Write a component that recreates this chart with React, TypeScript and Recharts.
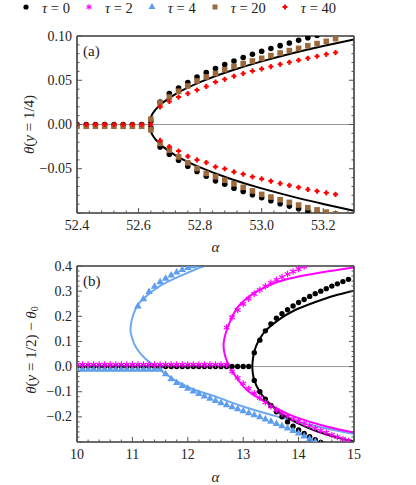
import React from "react";
import { ComposedChart, Line, Scatter, XAxis, YAxis, ReferenceLine } from "recharts";

const SERIF = "'Liberation Serif', 'DejaVu Serif', serif";
const FRAME = "#3a3a3a";
const TICK = "#555";
const INK = "#222";

const BLACK = "#000000";
const MAGENTA = "#ff00ff";
const BLUE = "#5f9eee";
const BLUE_LINE = "#6ea8f0";
const BROWN = "#9c6a3c";
const RED = "#ff0000";

// ---------- panel (a): theta(y=1/4), alpha grid of the runs (step 0.03)
const alphaA = [52.40, 52.43, 52.46, 52.49, 52.52, 52.55, 52.58, 52.61, 52.64, 52.67, 52.70, 52.73, 52.76, 52.79, 52.82, 52.85, 52.88, 52.91, 52.94, 52.97, 53.00, 53.03, 53.06, 53.09, 53.12, 53.15, 53.18, 53.21, 53.24];

// below threshold (first 8 alphas)
const tau0FlatA = [0, 0, 0, 0, 0, 0, 0, 0];
const tau20FlatA = [-0.002, -0.002, -0.002, -0.002, -0.002, -0.002, -0.002, -0.002];
const tau40FlatA = [0, 0, 0, 0, 0, 0, 0, 0];

// branches, from alpha = 52.64
const tau0UpperA = [0.004, 0.0255, 0.035, 0.0413, 0.0474, 0.0537, 0.0587, 0.0632, 0.0677, 0.0718, 0.0756, 0.0794, 0.0827, 0.0858, 0.0891, 0.0921, 0.0951, 0.0981, 0.1005, 0.103, 0.106];
const tau0LowerA = [-0.004, -0.0253, -0.0335, -0.0403, -0.0471, -0.053, -0.0584, -0.0637, -0.0674, -0.0719, -0.0756, -0.0794, -0.0828, -0.0862, -0.0896, -0.0922, -0.0952, -0.0978, -0.1, -0.103, -0.106];
const tau20UpperA = [0.006, 0.0244, 0.031, 0.0376, 0.0436, 0.0492, 0.0537, 0.0576, 0.062, 0.0658, 0.0688, 0.0718, 0.0748, 0.0779, 0.0808, 0.0835, 0.086, 0.089, 0.0914, 0.094, 0.097];
const tau20LowerA = [-0.006, -0.0214, -0.029, -0.0366, -0.0433, -0.0497, -0.0553, -0.059, -0.063, -0.067, -0.071, -0.075, -0.079, -0.082, -0.085, -0.088, -0.091, -0.094, -0.0965, -0.099, -0.101];
const tau40UpperA = [0, 0.02, 0.026, 0.031, 0.035, 0.039, 0.043, 0.048, 0.0511, 0.0545, 0.0576, 0.0605, 0.0628, 0.0655, 0.068, 0.0703, 0.0726, 0.0748, 0.0771, 0.0793, 0.0813];
// from alpha = 52.67
const tau40LowerA = [-0.018, -0.025, -0.03, -0.036, -0.04, -0.043, -0.0478, -0.05, -0.0535, -0.0561, -0.0591, -0.0614, -0.064, -0.0666, -0.0688, -0.0711, -0.0734, -0.0753, -0.0772, -0.079];

// theory curve (a), top branch -> nose -> bottom branch
const curveAlphaA = [53.3, 53.2, 53.1, 53.0, 52.9, 52.8, 52.72, 52.68, 52.655, 52.64, 52.635, 52.64, 52.655, 52.68, 52.72, 52.8, 52.9, 53.0, 53.1, 53.2, 53.3];
const curveThetaA = [0.0962, 0.0887, 0.0805, 0.0713, 0.0607, 0.0479, 0.0344, 0.025, 0.0167, 0.0083, 0, -0.0084, -0.0169, -0.0253, -0.0348, -0.0485, -0.0615, -0.0722, -0.0815, -0.0898, -0.0975];

// ---------- panel (b): theta(y=1/2) - theta0, alpha grid step 0.1
const alphaB = [10.0, 10.1, 10.2, 10.3, 10.4, 10.5, 10.6, 10.7, 10.8, 10.9, 11.0, 11.1, 11.2, 11.3, 11.4, 11.5, 11.6, 11.7, 11.8, 11.9, 12.0, 12.1, 12.2, 12.3, 12.4, 12.5, 12.6, 12.7, 12.8, 12.9, 13.0, 13.1, 13.2, 13.3, 13.4, 13.5, 13.6, 13.7, 13.8, 13.9, 14.0, 14.1, 14.2, 14.3, 14.4, 14.5, 14.6, 14.7, 14.8, 14.9, 15.0];

// tau = 0: flat 10.0-13.1, branches from 13.2
const tau0FlatB = [0, 0, 0, 0, 0, 0, 0, 0, 0, 0, 0, 0, 0, 0, 0, 0, 0, 0, 0, 0, 0, 0, 0, 0, 0, 0, 0, 0, 0, 0, 0, 0];
const tau0UpperB = [0.055, 0.105, 0.142, 0.17, 0.192, 0.21, 0.226, 0.241, 0.255, 0.267, 0.279, 0.29, 0.3, 0.31, 0.32, 0.329, 0.338, 0.347];
const tau0LowerB = [-0.055, -0.1, -0.13, -0.155, -0.18, -0.2, -0.22, -0.237, -0.252, -0.266, -0.279, -0.291, -0.302, -0.313];

// tau = 2: flat 10.0-12.7, upper from 12.7, lower from 12.8
const tau2FlatB = [0.008, 0.008, 0.008, 0.008, 0.008, 0.008, 0.008, 0.008, 0.008, 0.008, 0.008, 0.008, 0.008, 0.008, 0.008, 0.008, 0.008, 0.008, 0.008, 0.008, 0.008, 0.008, 0.008, 0.008, 0.008, 0.008, 0.008, 0.008];
const tau2UpperB = [0.155, 0.196, 0.225, 0.249, 0.27, 0.289, 0.305, 0.32, 0.333, 0.345, 0.356, 0.368, 0.378, 0.388, 0.398, 0.408];
const tau2LowerB = [-0.02, -0.045, -0.068, -0.088, -0.106, -0.124, -0.142, -0.158, -0.172, -0.186, -0.197, -0.208, -0.217, -0.226, -0.236, -0.246, -0.255, -0.263, -0.272, -0.28, -0.288, -0.296, -0.304];

// tau = 4: flat 10.0-11.5, upper from 11.1, lower from 11.6
const tau4FlatB = [-0.012, -0.012, -0.012, -0.012, -0.012, -0.012, -0.012, -0.012, -0.012, -0.012, -0.012, -0.012, -0.012, -0.012, -0.012, -0.012];
const tau4UpperB = [0.24, 0.268, 0.297, 0.318, 0.336, 0.35, 0.363, 0.375, 0.385, 0.393, 0.4, 0.407, 0.413];
const tau4LowerB = [-0.03, -0.05, -0.065, -0.077, -0.088, -0.098, -0.108, -0.118, -0.127, -0.136, -0.145, -0.153, -0.161, -0.169, -0.177, -0.185, -0.193, -0.201, -0.21, -0.219, -0.228, -0.237, -0.246, -0.256, -0.266, -0.277, -0.288, -0.299, -0.31];

// theory curves (b)
const blueCurveAlpha = [12.29, 11.87, 11.5, 11.26, 11.11, 11.02, 10.975, 10.965, 10.99, 11.08, 11.23, 11.41, 11.63, 11.87, 12.17, 12.47, 13.01, 13.62, 14.22, 15.0];
const blueCurveTheta = [0.4, 0.361, 0.321, 0.282, 0.249, 0.209, 0.17, 0.145, 0.117, 0.071, 0.032, 0, -0.034, -0.067, -0.096, -0.117, -0.16, -0.199, -0.232, -0.268];
const magentaCurveAlpha = [15.0, 14.4, 13.8, 13.32, 12.95, 12.77, 12.68, 12.645, 12.67, 12.72, 12.78, 12.9, 13.07, 13.44, 13.92, 14.52, 15.0];
const magentaCurveTheta = [0.394, 0.374, 0.348, 0.308, 0.249, 0.183, 0.13, 0.085, 0.045, 0.015, -0.01, -0.05, -0.094, -0.146, -0.199, -0.239, -0.262];
const blackCurveAlphaB = [15.0, 14.64, 14.28, 13.92, 13.62, 13.41, 13.28, 13.2, 13.17, 13.165, 13.17, 13.2, 13.32, 13.47, 13.68, 13.98, 14.34, 14.7, 15.0];
const blackCurveThetaB = [0.302, 0.282, 0.255, 0.223, 0.183, 0.144, 0.104, 0.06, 0.02, 0, -0.02, -0.055, -0.107, -0.146, -0.186, -0.225, -0.258, -0.282, -0.298];

// ---------- ticks
const xTicksA = [52.4, 52.6, 52.8, 53.0, 53.2];
const xTickLabelsA = ["52.4", "52.6", "52.8", "53.0", "53.2"];
const yTicksA = [0.1, 0.05, 0, -0.05, -0.1];
const yTickLabelsA = ["0.10", "0.05", "0.00", "\u22120.05", ""];
const xTicksB = [10, 11, 12, 13, 14, 15];
const xTickLabelsB = ["10", "11", "12", "13", "14", "15"];
const yTicksB = [0.4, 0.3, 0.2, 0.1, 0, -0.1, -0.2, -0.3];
const yTickLabelsB = ["0.4", "0.3", "0.2", "0.1", "0.0", "\u22120.1", "\u22120.2", ""];

const steps = (lo: number, hi: number, step: number) => {
  const out: number[] = [];
  const n = Math.round((hi - lo) / step);
  for (let i = 0; i <= n; i++) out.push(Math.round((lo + i * step) * 1e4) / 1e4);
  return out;
};

const zip = (xs: number[], ys: number[]) => ys.map((y, i) => ({ x: xs[i], y }));

// ---------- markers
const dotShape = (r: number, fill: string) => (p: any) => <circle cx={p.cx} cy={p.cy} r={r} fill={fill} />;
const squareShape = (s: number, fill: string) => (p: any) => (
  <rect x={p.cx - s / 2} y={p.cy - s / 2} width={s} height={s} fill={fill} />
);
const plusShape = (s: number, w: number, fill: string) => (p: any) => {
  const a = s / 2, b = w / 2;
  return (
    <g fill={fill}>
      <rect x={p.cx - a} y={p.cy - b} width={s} height={w} rx={0.6} />
      <rect x={p.cx - b} y={p.cy - a} width={w} height={s} rx={0.6} />
    </g>
  );
};
const triShape = (s: number, fill: string) => (p: any) => {
  const h = s * 0.866;
  return (
    <polygon
      points={`${p.cx},${p.cy - (2 * h) / 3} ${p.cx - s / 2},${p.cy + h / 3} ${p.cx + s / 2},${p.cy + h / 3}`}
      fill={fill}
    />
  );
};
const starShape = (r: number, color: string) => (p: any) => (
  <g stroke={color} strokeWidth={1.2}>
    {[90, 30, -30].map((deg) => {
      const t = (deg * Math.PI) / 180;
      return <line key={deg} x1={p.cx - r * Math.cos(t)} y1={p.cy - r * Math.sin(t)} x2={p.cx + r * Math.cos(t)} y2={p.cy + r * Math.sin(t)} />;
    })}
  </g>
);

// ---------- frame ticks (inward, minor + major, labels on the majors)
type Side = "bottom" | "top" | "left" | "right";
const frameTick = (side: Side, majors: number[], labels: string[] = []) => (p: any) => {
  const v = Number(p.payload.value);
  const k = majors.findIndex((m) => Math.abs(m - v) < 1e-6);
  const len = k >= 0 ? 5 : 2.5;
  const label = k >= 0 ? labels[k] : "";
  const { x, y } = p;
  let seg = [x, y, x, y - len];
  if (side === "top") seg = [x, y, x, y + len];
  if (side === "left") seg = [x, y, x + len, y];
  if (side === "right") seg = [x, y, x - len, y];
  return (
    <g>
      <line x1={seg[0]} y1={seg[1]} x2={seg[2]} y2={seg[3]} stroke={TICK} strokeWidth={1} />
      {label && side === "bottom" ? (
        <text x={x} y={y + 17} textAnchor="middle" fontFamily={SERIF} fontSize={14} fill={INK}>{label}</text>
      ) : null}
      {label && side === "left" ? (
        <text x={x - 5} y={y + 4.5} textAnchor="end" fontFamily={SERIF} fontSize={14} fill={INK}>{label}</text>
      ) : null}
    </g>
  );
};

const alphaTitle = (dy: number) => (p: any) => {
  const vb = p.viewBox || { x: 0, y: 0, width: 0, height: 0 };
  return (
    <text x={vb.x + vb.width / 2} y={vb.y + dy} textAnchor="middle" fontFamily={SERIF} fontSize={15} fontStyle="italic" fill={INK}>
      α
    </text>
  );
};

const panelTag = (tag: string) => (p: any) => {
  const vb = p.viewBox || { x: 0, y: 0, width: 0, height: 0 };
  return (
    <text x={vb.x + 6} y={vb.y + vb.height + 19.5} fontFamily={SERIF} fontSize={15} fill={INK}>{tag}</text>
  );
};

const yTitleA = (p: any) => {
  const vb = p.viewBox || { x: 0, y: 0, width: 0, height: 0 };
  const cx = vb.x + 29, cy = vb.y + vb.height / 2;
  return (
    <text x={cx} y={cy} transform={`rotate(-90 ${cx} ${cy})`} textAnchor="middle" dominantBaseline="central" fontFamily={SERIF} fontSize={15} fill={INK}>
      <tspan fontStyle="italic">θ</tspan>(<tspan fontStyle="italic">y</tspan> = 1/4)
    </text>
  );
};

const yTitleB = (p: any) => {
  const vb = p.viewBox || { x: 0, y: 0, width: 0, height: 0 };
  const cx = vb.x + 31, cy = vb.y + vb.height / 2 - 4;
  return (
    <text x={cx} y={cy} transform={`rotate(-90 ${cx} ${cy})`} textAnchor="middle" dominantBaseline="central" fontFamily={SERIF} fontSize={15} fill={INK}>
      <tspan fontStyle="italic">θ</tspan>(<tspan fontStyle="italic">y</tspan> = 1/2) − <tspan fontStyle="italic">θ</tspan>
      <tspan fontSize={10} dy={3}>0</tspan>
    </text>
  );
};

function frameAxes(o: {
  xDomain: [number, number]; yDomain: [number, number];
  xAll: number[]; yAll: number[];
  xMajor: number[]; yMajor: number[];
  xLabels: string[]; yLabels: string[];
  xHeight: number; xTitle: any; yTitle: any; tag: any;
}) {
  const axisLine = { stroke: FRAME, strokeWidth: 1.6 };
  return [
    <XAxis key="xb" dataKey="x" type="number" domain={o.xDomain} allowDataOverflow ticks={o.xAll} interval={0}
      tickSize={0} tickMargin={0} tickLine={false} axisLine={axisLine} height={o.xHeight}
      tick={frameTick("bottom", o.xMajor, o.xLabels)} label={o.xTitle} />,
    <XAxis key="xt" xAxisId="top" orientation="top" type="number" domain={o.xDomain} allowDataOverflow ticks={o.xAll} interval={0}
      tickSize={0} tickMargin={0} tickLine={false} axisLine={axisLine} height={1}
      tick={frameTick("top", o.xMajor)} label={o.tag} />,
    <YAxis key="yl" dataKey="y" type="number" domain={o.yDomain} allowDataOverflow ticks={o.yAll} interval={0}
      tickSize={0} tickMargin={0} tickLine={false} axisLine={axisLine} width={77}
      tick={frameTick("left", o.yMajor, o.yLabels)} label={o.yTitle} />,
    <YAxis key="yr" yAxisId="right" orientation="right" type="number" domain={o.yDomain} allowDataOverflow ticks={o.yAll} interval={0}
      tickSize={0} tickMargin={0} tickLine={false} axisLine={axisLine} width={1}
      tick={frameTick("right", o.yMajor)} />,
  ];
}

// ---------- series data
const blackA = [...zip(alphaA, tau0FlatA), ...zip(alphaA.slice(8), tau0UpperA), ...zip(alphaA.slice(8), tau0LowerA)];
const brownA = [...zip(alphaA, tau20FlatA), ...zip(alphaA.slice(8), tau20UpperA), ...zip(alphaA.slice(8), tau20LowerA)];
const redA = [...zip(alphaA, tau40FlatA), ...zip(alphaA.slice(8), tau40UpperA), ...zip(alphaA.slice(9), tau40LowerA)];
const curveA = zip(curveAlphaA, curveThetaA);

const blackB = [...zip(alphaB, tau0FlatB), ...zip(alphaB.slice(32), tau0UpperB), ...zip(alphaB.slice(32), tau0LowerB)];
const magentaB = [...zip(alphaB, tau2FlatB), ...zip(alphaB.slice(27), tau2UpperB), ...zip(alphaB.slice(28), tau2LowerB)];
const blueB = [...zip(alphaB, tau4FlatB), ...zip(alphaB.slice(11), tau4UpperB), ...zip(alphaB.slice(16), tau4LowerB)];
const blueCurve = zip(blueCurveAlpha, blueCurveTheta);
const magentaCurve = zip(magentaCurveAlpha, magentaCurveTheta);
const blackCurveB = zip(blackCurveAlphaB, blackCurveThetaB);

const legendEntries = [
  { tau: "0", shape: dotShape(2.6, BLACK) },
  { tau: "2", shape: starShape(2.8, MAGENTA) },
  { tau: "4", shape: triShape(7, BLUE) },
  { tau: "20", shape: squareShape(5, BROWN) },
  { tau: "40", shape: plusShape(5, 2, RED) },
];

export default function App() {
  return (
    <div style={{ position: "absolute", left: 0, top: 0, width: 416, height: 485, background: "#fff" }}>
      <div style={{ position: "absolute", left: 21, top: 0, display: "flex", alignItems: "flex-start", fontFamily: SERIF, fontSize: 14.5, whiteSpace: "nowrap", color: INK }}>
        {legendEntries.map((e) => (
          <div key={e.tau} style={{ display: "flex", alignItems: "flex-start", marginRight: 14 }}>
            <svg width={10} height={10} style={{ marginTop: 2, marginRight: 11, overflow: "visible" }}>{e.shape({ cx: 5, cy: 5 })}</svg>
            <span><i>τ</i> = {e.tau}</span>
          </div>
        ))}
      </div>

      <div style={{ position: "absolute", left: 0, top: 0 }}>
        <ComposedChart width={416} height={260} margin={{ top: 35, right: 61, bottom: 0, left: 0 }}>
          {frameAxes({
            xDomain: [52.4, 53.3], yDomain: [-0.1, 0.1],
            xAll: steps(52.4, 53.28, 0.04), yAll: steps(-0.1, 0.1, 0.01),
            xMajor: xTicksA, yMajor: yTicksA, xLabels: xTickLabelsA, yLabels: yTickLabelsA,
            xHeight: 47, xTitle: alphaTitle(39), yTitle: yTitleA, tag: panelTag("(a)"),
          })}
          <ReferenceLine y={0} stroke="#999" strokeWidth={1} />
          <Scatter name="τ = 0" data={blackA} shape={dotShape(2.8, BLACK)} isAnimationActive={false} />
          <Scatter name="τ = 20" data={brownA} shape={squareShape(5.6, BROWN)} isAnimationActive={false} />
          <Scatter name="τ = 40" data={redA} shape={plusShape(5.2, 2.1, RED)} isAnimationActive={false} />
          <Line data={curveA} dataKey="y" type="monotoneY" stroke={BLACK} strokeWidth={2} dot={false} isAnimationActive={false} />
        </ComposedChart>
      </div>

      <div style={{ position: "absolute", left: 0, top: 260 }}>
        <ComposedChart width={416} height={225} margin={{ top: 5, right: 61, bottom: 0, left: 0 }}>
          {frameAxes({
            xDomain: [10, 15], yDomain: [-0.3, 0.4],
            xAll: steps(10, 15, 0.2), yAll: steps(-0.3, 0.4, 0.02),
            xMajor: xTicksB, yMajor: yTicksB, xLabels: xTickLabelsB, yLabels: yTickLabelsB,
            xHeight: 43, xTitle: alphaTitle(40), yTitle: yTitleB, tag: panelTag("(b)"),
          })}
          <ReferenceLine y={0} stroke="#999" strokeWidth={1} />
          <Scatter name="τ = 0" data={blackB} shape={dotShape(2.7, BLACK)} isAnimationActive={false} />
          <Scatter name="τ = 4" data={blueB} shape={triShape(7.5, BLUE)} isAnimationActive={false} />
          <Scatter name="τ = 2" data={magentaB} shape={starShape(3.3, MAGENTA)} isAnimationActive={false} />
          <Line data={blueCurve} dataKey="y" type="monotoneY" stroke={BLUE_LINE} strokeWidth={2} dot={false} isAnimationActive={false} />
          <Line data={magentaCurve} dataKey="y" type="monotoneY" stroke={MAGENTA} strokeWidth={2} dot={false} isAnimationActive={false} />
          <Line data={blackCurveB} dataKey="y" type="monotoneY" stroke={BLACK} strokeWidth={2} dot={false} isAnimationActive={false} />
        </ComposedChart>
      </div>
    </div>
  );
}
